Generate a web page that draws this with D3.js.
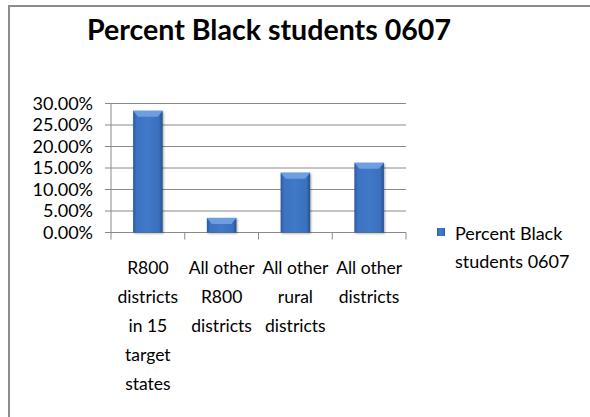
<!DOCTYPE html>
<html>
<head>
<meta charset="utf-8">
<script src="https://cdn.jsdelivr.net/npm/d3@7"></script>
<style>
  body { margin: 0; background: #fff; }
  svg { display: block; }
  text { font-family: Lato, "Open Sans", sans-serif; fill: #000; }
</style>
</head>
<body>
<div id="chart"></div>
<script>
const categories = [
  ["R800", "districts", "in 15", "target", "states"],
  ["All other", "R800", "districts"],
  ["All other", "rural", "districts"],
  ["All other", "districts"]
];
const values = [0.283, 0.034, 0.139, 0.162];
const yTicks = [0, 0.05, 0.10, 0.15, 0.20, 0.25, 0.30];
const seriesName = ["Percent Black", "students 0607"];
const title = "Percent Black students 0607";

const width = 590, height = 417;
const plot = { left: 111, right: 406, top: 103.5, bottom: 232.5 };

const svg = d3.select("#chart").append("svg")
  .attr("width", width)
  .attr("height", height);

// bar gradient
const defs = svg.append("defs");
const grad = defs.append("linearGradient").attr("id", "barGrad")
  .attr("x1", "0").attr("x2", "1").attr("y1", "0").attr("y2", "0");
grad.append("stop").attr("offset", "0%").attr("stop-color", "#2a5a9c");
grad.append("stop").attr("offset", "12%").attr("stop-color", "#3c73c2");
grad.append("stop").attr("offset", "50%").attr("stop-color", "#4079c8");
grad.append("stop").attr("offset", "88%").attr("stop-color", "#3a70bd");
grad.append("stop").attr("offset", "100%").attr("stop-color", "#24508e");

// outer frame
svg.append("path")
  .attr("d", `M9,${height} L9,6 L${width},6`)
  .attr("fill", "none")
  .attr("stroke", "#8c8c8c")
  .attr("stroke-width", 2);

// title
svg.append("text")
  .attr("x", 269)
  .attr("y", 40)
  .attr("text-anchor", "middle")
  .attr("font-size", "29px")
  .attr("font-weight", "bold")
  .attr("textLength", 364)
  .attr("lengthAdjust", "spacingAndGlyphs")
  .text(title);

const x = d3.scaleBand()
  .domain(d3.range(categories.length))
  .range([plot.left, plot.right])
  .paddingInner(0.6)
  .paddingOuter(0.3);

const y = d3.scaleLinear()
  .domain([0, 0.30])
  .range([plot.bottom, plot.top]);

// gridlines
svg.append("g").selectAll("line")
  .data(yTicks)
  .join("line")
  .attr("x1", plot.left - 6)
  .attr("x2", plot.right)
  .attr("y1", d => y(d))
  .attr("y2", d => y(d))
  .attr("stroke", "#8a8a8a")
  .attr("stroke-width", 1);

// y axis line
svg.append("line")
  .attr("x1", plot.left).attr("x2", plot.left)
  .attr("y1", plot.top).attr("y2", plot.bottom)
  .attr("stroke", "#8a8a8a");

// category ticks
const edges = d3.range(categories.length + 1).map(i => plot.left + i * (plot.right - plot.left) / categories.length);
svg.append("g").selectAll("line")
  .data(edges)
  .join("line")
  .attr("x1", d => d).attr("x2", d => d)
  .attr("y1", plot.bottom).attr("y2", plot.bottom + 7)
  .attr("stroke", "#8a8a8a");

// y tick labels
svg.append("g").selectAll("text")
  .data(yTicks)
  .join("text")
  .attr("x", 93)
  .attr("y", d => y(d) + 6)
  .attr("text-anchor", "end")
  .attr("font-size", "18px")
  .text(d => (d * 100).toFixed(2) + "%");

// bars
const bars = svg.append("g");
values.forEach((v, i) => {
  const x0 = x(i), w = x.bandwidth(), top = y(v), h = y(0) - y(v);
  bars.append("rect")
    .attr("x", x0).attr("y", top)
    .attr("width", w).attr("height", h)
    .attr("fill", "url(#barGrad)")
    .style("filter", "drop-shadow(1px 1px 1px rgba(0,0,0,0.35))");
  const bev = Math.min(6, h / 2);
  bars.append("path")
    .attr("d", `M${x0},${top} L${x0 + w},${top} L${x0 + w - 5},${top + bev} L${x0 + 5},${top + bev} Z`)
    .attr("fill", "#6d9ee0");
});

// category labels
const labels = svg.append("g");
categories.forEach((lines, i) => {
  const cx = (edges[i] + edges[i + 1]) / 2;
  lines.forEach((line, j) => {
    labels.append("text")
      .attr("x", cx)
      .attr("y", 274 + j * 29)
      .attr("text-anchor", "middle")
      .attr("font-size", "17.5px")
      .text(line);
  });
});

// legend
svg.append("rect")
  .attr("x", 437).attr("y", 228)
  .attr("width", 8).attr("height", 8)
  .attr("fill", "url(#barGrad)");
seriesName.forEach((line, j) => {
  svg.append("text")
    .attr("x", 455)
    .attr("y", 240 + j * 28)
    .attr("font-size", "18px")
    .text(line);
});
</script>
</body>
</html>
